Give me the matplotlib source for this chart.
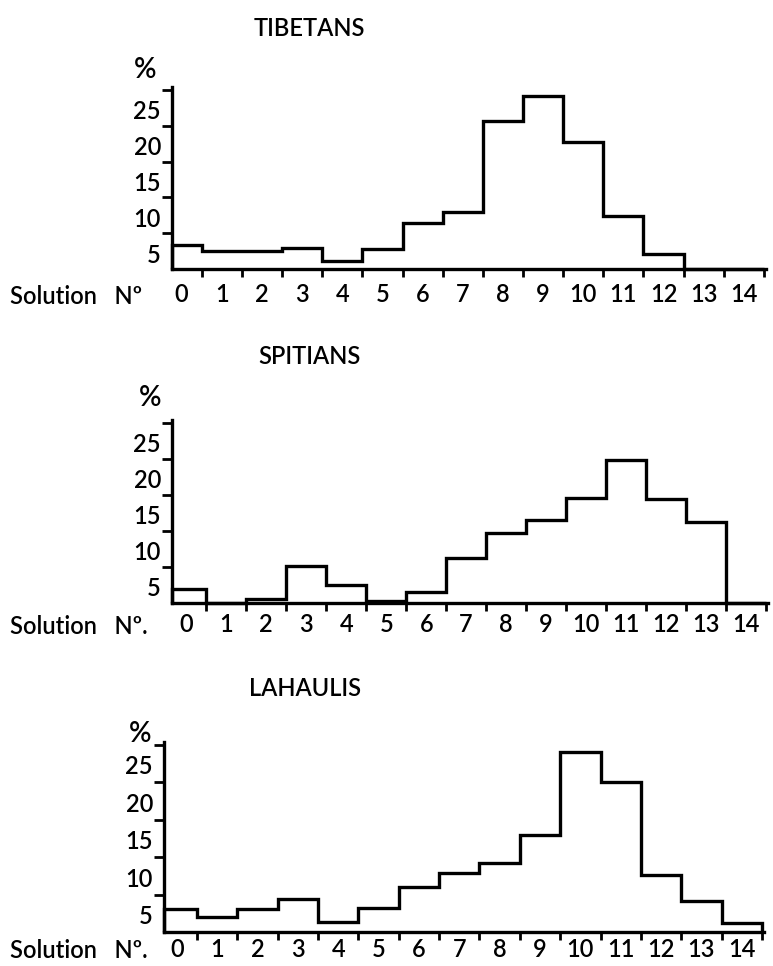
import matplotlib
matplotlib.use('Agg')
import matplotlib.pyplot as plt
import matplotlib.transforms as mtransforms
import numpy as np

plt.rcParams['font.family'] = ['Lato', 'DejaVu Sans']
plt.rcParams['font.weight'] = 'semibold'

# percentage of individuals per solution number
solution_no = list(range(15))
tibetans = [3.3, 2.45, 2.45, 3.0, 1.1, 2.85, 6.4, 8.0, 20.7, 24.1, 17.7, 7.4, 2.1, 0, 0]
spitians = [2.0, 0, 0.5, 5.1, 2.55, 0.3, 1.5, 6.25, 9.7, 11.5, 14.6, 19.8, 14.5, 11.3, 0]
lahaulis = [3.05, 2.0, 3.05, 4.45, 1.4, 3.25, 6.0, 7.9, 9.2, 13.0, 24.0, 20.0, 7.6, 4.2, 1.2]
y_ticks = [5, 10, 15, 20, 25]

fig = plt.figure(figsize=(7.73, 9.66), dpi=100)

def px(x, y):
    return x / 773, 1 - y / 966

# (values, axes rect, left x limit, x-label pad, title, title pos, % pos, solution label, solution y)
panels = [
    (tibetans, [0.2225, 0.7215, 0.7684, 0.1884], -0.24, 10, 'TIBETANS', (309, 28), (145, 70),
     'Solution   Nº', 297),
    (spitians, [0.2225, 0.3758, 0.7710, 0.1894], -0.36, 7, 'SPITIANS', (310, 357), (150, 398),
     'Solution   Nº.', 626),
    (lahaulis, [0.2122, 0.0352, 0.7760, 0.1967], -0.32, 4, 'LAHAULIS', (305, 688), (140, 734),
     'Solution   Nº.', 950),
]

offset = mtransforms.ScaledTranslation(0, -0.2, fig.dpi_scale_trans)

for values, rect, x0, pad, title, tpos, ppos, sol, sol_y in panels:
    ax = fig.add_axes(rect)
    edges = np.concatenate([[x0], np.arange(0.5, 15, 1)])
    ax.stairs(values, edges, baseline=0, color='black', lw=2.4, clip_on=False)

    ax.set_xlim(x0, 14.55)
    ax.set_ylim(0, 25.4)
    for side in ['top', 'right']:
        ax.spines[side].set_visible(False)
    for side in ['left', 'bottom']:
        ax.spines[side].set_linewidth(2.4)

    ax.set_xticks(solution_no)
    ax.set_xticklabels([str(n) for n in solution_no])
    ax.set_xticks(np.arange(0.5, 15, 1), minor=True)
    ax.tick_params(axis='x', which='major', length=0, pad=pad, labelsize=17)
    ax.tick_params(axis='x', which='minor', length=6, width=2, direction='out')

    ax.set_yticks(y_ticks)
    ax.set_yticklabels([str(v) for v in y_ticks])
    ax.tick_params(axis='y', length=7, width=2, direction='out', pad=1, labelsize=17)
    for lab in ax.get_yticklabels():
        lab.set_transform(lab.get_transform() + offset)

    fig.text(*px(*tpos), title, ha='center', va='center', fontsize=17)
    fig.text(*px(*ppos), '%', ha='center', va='center', fontsize=20)
    fig.text(*px(10, sol_y), sol, ha='left', va='center', fontsize=17)

fig.savefig('out.png', dpi=100)
